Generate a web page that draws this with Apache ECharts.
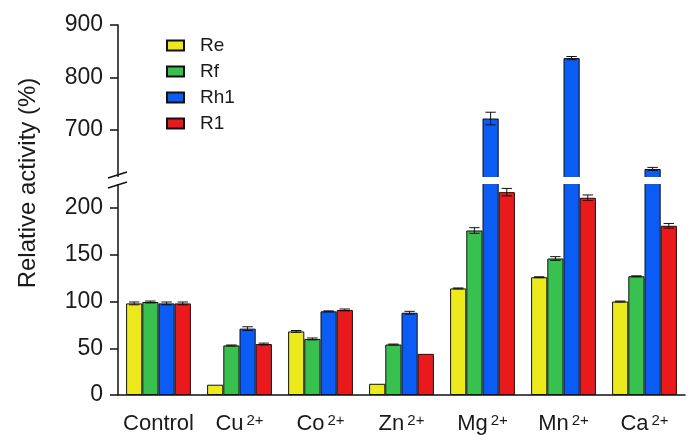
<!DOCTYPE html>
<html>
<head>
<meta charset="utf-8">
<script src="https://cdn.jsdelivr.net/npm/echarts@6/dist/echarts.min.js"></script>
<style>html,body{margin:0;padding:0;background:#fff;}#c{width:694px;height:435px;}</style>
</head>
<body>
<div id="c"></div>
<script>
const categories = ['Control', 'Cu', 'Co', 'Zn', 'Mg', 'Mn', 'Ca'];
const charges = ['', '2+', '2+', '2+', '2+', '2+', '2+'];
const seriesNames = ['Re', 'Rf', 'Rh1', 'R1'];
const reVals  = [98, 11, 68, 12, 114, 126, 100];
const rfVals  = [99.5, 53, 60, 54, 176, 146, 127];
const rh1Vals = [98, 71, 89.5, 88, 722, 837, 626];
const r1Vals  = [98, 54.5, 91, 44, 217, 211, 181];
const reErr  = [1.5, 0, 1, 0, 0.5, 0.5, 0.5];
const rfErr  = [1, 0.5, 1, 0.5, 3, 2, 0.5];
const rh1Err = [1.5, 2, 0.5, 1.5, 12, 3, 3];
const r1Err  = [1.5, 1, 1, 0, 4, 3, 2.5];
const lowerTicks = [0, 50, 100, 150, 200];
const upperTicks = [700, 800, 900];

const allVals = [reVals, rfVals, rh1Vals, r1Vals];
const allErr = [reErr, rfErr, rh1Err, r1Err];
const colors = ['#ecea1c', '#38c14e', '#0a5cf5', '#ea1a1c'];
const txt = '#1a1a1a';
const FONT = 'Liberation Sans';

// layout constants
const L = 118, R = 9;
const upTop = 25, upBottom = 180;   // upper segment 605..900
const loTop = 180, loBottom = 397;  // lower segment 0..230
const upMin = 605, upMax = 900, loMin = 0, loMax = 230;

function errRender(k) {
  return function (params, api) {
    const xi = api.value(0), v = api.value(1), e = api.value(2);
    if (!e) return;
    const catW = api.size([1, 0])[0];
    const barW = catW * 0.8 / 4;
    const cx = api.coord([xi, v])[0] - catW * 0.4 + barW * (k + 0.5);
    const top = api.coord([xi, v + e])[1];
    const bot = api.coord([xi, v - e])[1];
    const h = barW * 0.32;
    const st = { stroke: '#111', lineWidth: 1 };
    return {
      type: 'group',
      children: [
        { type: 'line', shape: { x1: cx, y1: top, x2: cx, y2: bot }, style: st },
        { type: 'line', shape: { x1: cx - h, y1: top, x2: cx + h, y2: top }, style: st },
        { type: 'line', shape: { x1: cx - h, y1: bot, x2: cx + h, y2: bot }, style: st }
      ]
    };
  };
}

const series = [];
[0, 1].forEach(function (g) {
  seriesNames.forEach(function (name, k) {
    series.push({
      name: name,
      type: 'bar',
      xAxisIndex: g, yAxisIndex: g,
      data: allVals[k],
      barGap: '0%',
      barCategoryGap: '20%',
      clip: true,
      itemStyle: { color: colors[k], borderColor: '#111', borderWidth: 1 },
      emphasis: { disabled: true },
      z: 2
    });
  });
  seriesNames.forEach(function (name, k) {
    series.push({
      name: 'err' + name,
      type: 'custom',
      xAxisIndex: g, yAxisIndex: g,
      clip: true,
      renderItem: errRender(k),
      data: categories.map(function (c, i) { return [i, allVals[k][i], allErr[k][i]]; }),
      z: 3
    });
  });
});

const chart = echarts.init(document.getElementById('c'), null, { renderer: 'canvas' });
const bandTop = 177, bandBot = 184;
chart.setOption({
  animation: false,
  backgroundColor: '#fff',
  textStyle: { fontFamily: FONT },
  legend: {
    data: seriesNames,
    orient: 'vertical',
    left: 166, top: 36,
    padding: 0,
    itemWidth: 17, itemHeight: 10,
    itemGap: 7,
    icon: 'rect',
    textStyle: { fontSize: 19, color: txt, fontFamily: FONT, padding: [0, 0, 0, 11] }
  },
  grid: [
    { left: L, right: R, top: upTop, height: upBottom - upTop },
    { left: L, right: R, top: loTop, height: loBottom - loTop }
  ],
  xAxis: [
    { type: 'category', gridIndex: 0, data: categories, show: false },
    {
      type: 'category', gridIndex: 1, data: categories,
      axisLine: { lineStyle: { color: '#111', width: 1.5 } },
      axisTick: { length: 8, lineStyle: { color: '#111', width: 1.5 } },
      axisLabel: {
        interval: 0,
        margin: 18,
        formatter: function (val, idx) {
          return charges[idx] ? '{b|' + val + '}{s|' + charges[idx] + '}' : '{b|' + val + '}';
        },
        rich: {
          b: { fontSize: 22, color: txt, fontFamily: FONT },
          s: { fontSize: 15, color: txt, fontFamily: FONT, verticalAlign: 'top', padding: [0, 0, 0, 3] }
        }
      }
    }
  ],
  yAxis: [
    {
      type: 'value', gridIndex: 0, min: upMin, max: upMax,
      splitLine: { show: false },
      axisLine: { show: true, lineStyle: { color: '#111', width: 1.5 } },
      axisTick: { show: true, length: 8, customValues: upperTicks, lineStyle: { color: '#111', width: 1.5 } },
      axisLabel: { customValues: upperTicks, fontSize: 23, color: txt, margin: 15, fontFamily: FONT }
    },
    {
      type: 'value', gridIndex: 1, min: loMin, max: loMax,
      splitLine: { show: false },
      axisLine: { show: true, lineStyle: { color: '#111', width: 1.5 } },
      axisTick: { show: true, length: 8, customValues: lowerTicks, lineStyle: { color: '#111', width: 1.5 } },
      axisLabel: { customValues: lowerTicks, fontSize: 23, color: txt, margin: 15, fontFamily: FONT }
    }
  ],
  graphic: [
    { type: 'rect', z: 100, shape: { x: L - 6, y: bandTop, width: 694 - L + 6, height: bandBot - bandTop }, style: { fill: '#fff' } },
    { type: 'line', z: 101, shape: { x1: L - 10, y1: bandTop + 1, x2: L + 9, y2: bandTop - 5 }, style: { stroke: '#111', lineWidth: 1.5 } },
    { type: 'line', z: 101, shape: { x1: L - 10, y1: bandBot + 4, x2: L + 9, y2: bandBot - 2 }, style: { stroke: '#111', lineWidth: 1.5 } },
    {
      type: 'text', z: 101, x: 28, y: 183, rotation: Math.PI / 2,
      style: { text: 'Relative activity (%)', fontSize: 24, fill: txt, fontFamily: FONT, align: 'center', verticalAlign: 'middle' }
    }
  ],
  series: series
});
</script>
</body>
</html>
